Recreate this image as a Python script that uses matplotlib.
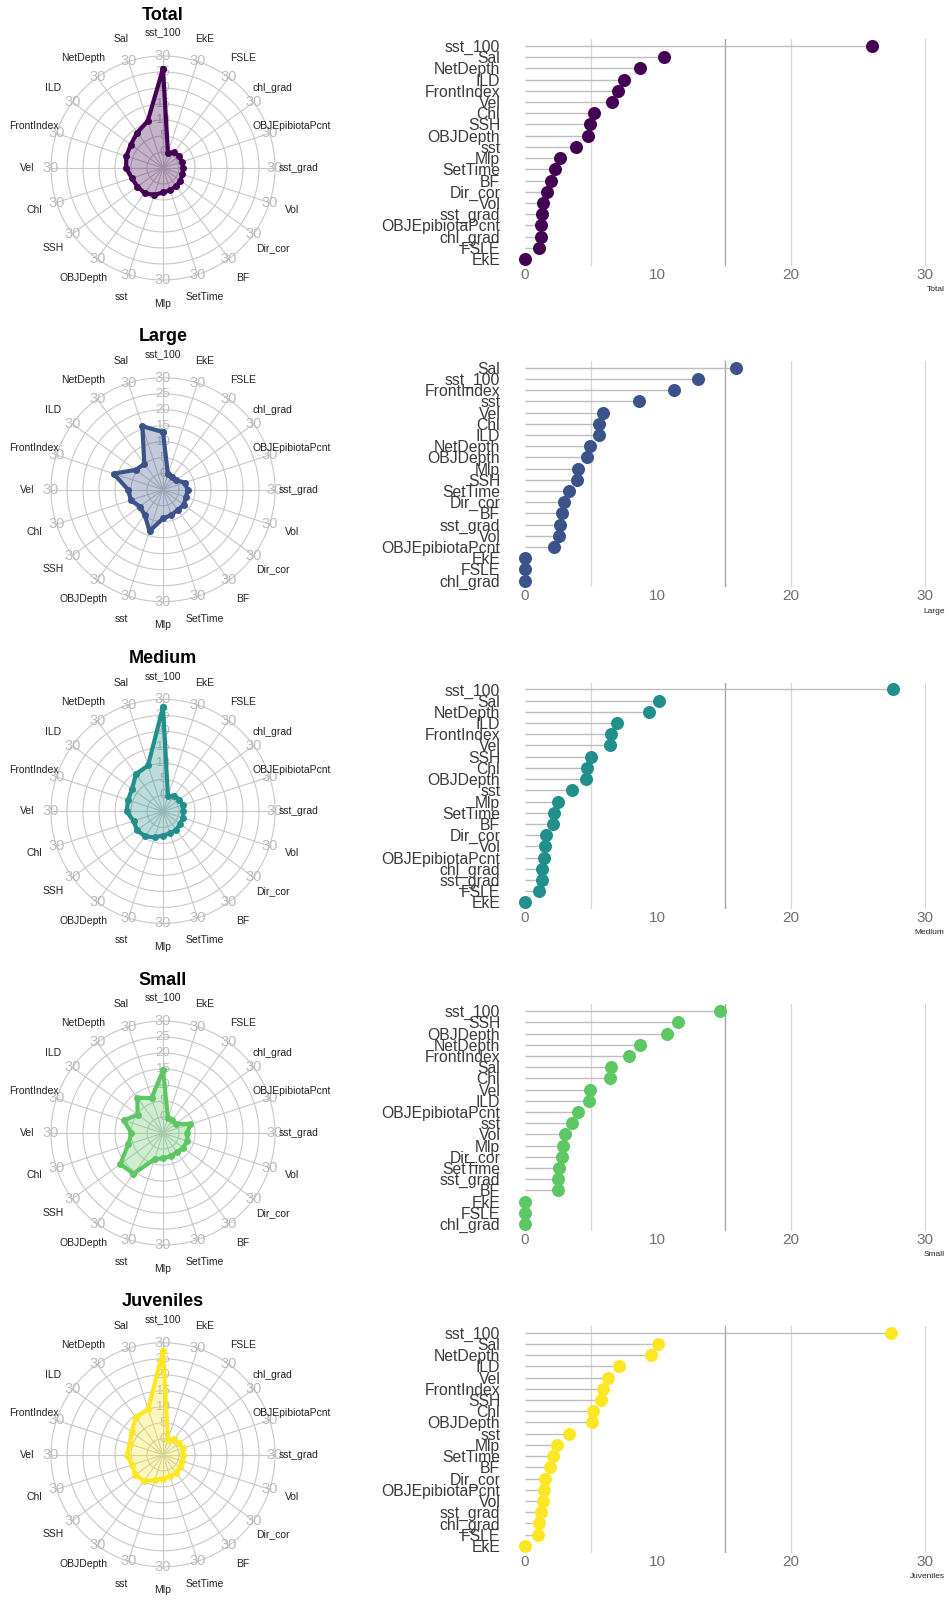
import numpy as np
import matplotlib
matplotlib.use("Agg")
import matplotlib.pyplot as plt

plt.rcParams['font.family'] = ['Liberation Sans', 'DejaVu Sans']

# variables in radar order (clockwise from top)
variables = ['sst_100', 'EkE', 'FSLE', 'chl_grad', 'OBJEpibiotaPcnt', 'sst_grad',
             'Vol', 'Dir_cor', 'BF', 'SetTime', 'Mlp', 'sst', 'OBJDepth', 'SSH',
             'Chl', 'Vel', 'FrontIndex', 'ILD', 'NetDepth', 'Sal']

groups = ['Total', 'Large', 'Medium', 'Small', 'Juveniles']
colors = ['#440154', '#3B528B', '#21908C', '#5DC863', '#FDE725']

total = [26.06, 0.0, 1.05, 1.21, 1.24, 1.30, 1.38, 1.71, 1.99, 2.32,
         2.65, 3.84, 4.75, 4.89, 5.24, 6.54, 7.04, 7.45, 8.69, 10.43]
large = [13.0, 0.0, 0.0, 0.0, 2.18, 2.68, 2.59, 2.98, 2.84, 3.34,
         4.0, 8.61, 4.72, 3.95, 5.58, 5.91, 11.23, 5.55, 4.94, 15.87]
medium = [27.6, 0.0, 1.10, 1.32, 1.46, 1.30, 1.57, 1.63, 2.10, 2.21,
          2.54, 3.56, 4.60, 5.02, 4.65, 6.38, 6.49, 6.96, 9.36, 10.1]
small = [14.63, 0.0, 0.0, 0.0, 4.0, 2.54, 3.04, 2.79, 2.48, 2.59,
         2.87, 3.59, 10.71, 11.48, 6.43, 4.89, 7.84, 4.83, 8.64, 6.51]
juveniles = [27.5, 0.0, 1.02, 1.10, 1.47, 1.24, 1.38, 1.55, 1.91, 2.13,
             2.43, 3.37, 5.06, 5.75, 5.17, 6.28, 5.92, 7.10, 9.45, 10.04]

series = [total, large, medium, small, juveniles]

ring_values = [0, 5, 10, 15, 20, 25, 30]
axis_max = 30

W, H = 948, 1600
fig = plt.figure(figsize=(W / 100, H / 100), dpi=100)


def rect(x0, y0, x1, y1):
    return [x0 / W, 1 - y1 / H, (x1 - x0) / W, (y1 - y0) / H]


def radius(v):
    # fmsb style: centre sits one segment below zero
    return (np.asarray(v) + 5) / (axis_max + 5)


pitch = 321.7
R_px = 112
half = 160
n = len(variables)
theta = np.pi / 2 - 2 * np.pi * np.arange(n) / n

for i, (name, vals, col) in enumerate(zip(groups, series, colors)):
    off = i * pitch

    # ---- radar chart ----
    cx, cy = 163, 168 + off
    ax = fig.add_axes(rect(cx - half, cy - half, cx + half, cy + half))
    lim = half / R_px
    ax.set_xlim(-lim, lim)
    ax.set_ylim(-lim, lim)
    ax.axis('off')

    circ = np.linspace(0, 2 * np.pi, 200)
    for rv in ring_values:
        r = radius(rv)
        ax.plot(r * np.cos(circ), r * np.sin(circ), color='#c8c8c8', lw=0.8, zorder=1)
    for t in theta:
        ax.plot([0, np.cos(t)], [0, np.sin(t)], color='#c8c8c8', lw=0.8, zorder=1)

    for rv in ring_values[:-1]:
        ax.text(0, radius(rv), str(rv), color='#bbbbbb', fontsize=9.5,
                ha='center', va='center', zorder=2)
    for t in theta:
        ax.text(np.cos(t), np.sin(t), str(axis_max), color='#bbbbbb', fontsize=10.5,
                ha='center', va='center', zorder=2)

    r = radius(vals)
    xs = np.append(r * np.cos(theta), r[0] * np.cos(theta[0]))
    ys = np.append(r * np.sin(theta), r[0] * np.sin(theta[0]))
    ax.fill(xs, ys, color=col, alpha=0.3, lw=0, zorder=3)
    ax.plot(xs, ys, color=col, lw=3.0, marker='o', markersize=4, zorder=4)

    for t, lab in zip(theta, variables):
        ax.text(1.21 * np.cos(t), 1.21 * np.sin(t), lab, fontsize=7.5,
                color='#222222', ha='center', va='center')

    ax.text(0, 153 / R_px, name, fontsize=13, fontweight='bold',
            ha='center', va='center')

    # ---- lollipop chart ----
    order = sorted(range(n), key=lambda k: -vals[k])
    labels = [variables[k] for k in order]
    v_sorted = [vals[k] for k in order]
    ypos = np.arange(n, 0, -1)

    bx = fig.add_axes(rect(504.5, 39.3 + off, 944.5, 265.7 + off))
    bx.set_xlim(-1.5, 31.5)
    bx.set_ylim(0.4, n + 0.6)
    for gx in [5, 20, 30]:
        bx.axvline(gx, color='#d6d6d6', lw=0.9, zorder=0)
    bx.axvline(15, color='#a8a8a8', lw=1.0, zorder=0)
    bx.hlines(ypos, 0, v_sorted, color='#bdbdbd', lw=1.0, zorder=1)
    bx.scatter(v_sorted, ypos, s=88, color=col, zorder=3, linewidths=0)

    bx.set_yticks(ypos)
    bx.set_yticklabels(labels, fontsize=11.3, color='#3a3a3a')
    bx.set_xticks([0, 10, 20, 30])
    bx.set_xticklabels(['0', '10', '20', '30'], fontsize=11, color='#707070')
    bx.tick_params(length=0, axis='y', pad=3)
    bx.tick_params(length=0, axis='x', pad=1.5)
    for s in bx.spines.values():
        s.set_visible(False)
    bx.set_xlabel(name, fontsize=6, loc='right', labelpad=3, color='#222222')

fig.savefig('out.png', dpi=100)
